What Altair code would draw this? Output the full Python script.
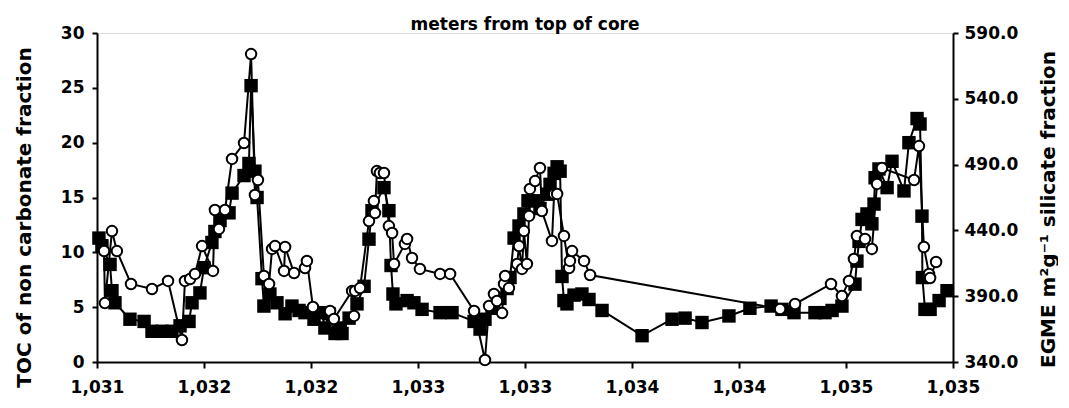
import altair as alt
import pandas as pd

# TOC of non carbonate fraction (filled squares, left axis)
toc_depth = [1031.009, 1031.023, 1031.061, 1031.070, 1031.084, 1031.154, 1031.220, 1031.257,
             1031.304, 1031.350, 1031.388, 1031.430, 1031.444, 1031.481, 1031.500, 1031.537,
             1031.551, 1031.575, 1031.617, 1031.631, 1031.687, 1031.710, 1031.720, 1031.738,
             1031.748, 1031.771, 1031.780, 1031.808, 1031.841, 1031.879, 1031.911, 1031.944,
             1031.972, 1032.014, 1032.051, 1032.065, 1032.084, 1032.112, 1032.136, 1032.145,
             1032.178, 1032.215, 1032.248, 1032.271, 1032.285, 1032.341, 1032.364, 1032.374,
             1032.383, 1032.397, 1032.449, 1032.481, 1032.519, 1032.603, 1032.659, 1032.762,
             1032.790, 1032.813, 1032.846, 1032.883, 1032.916, 1032.930, 1032.949, 1032.972,
             1032.995, 1033.014, 1033.042, 1033.070, 1033.103, 1033.117, 1033.136, 1033.150,
             1033.164, 1033.173, 1033.182, 1033.196, 1033.229, 1033.266, 1033.299, 1033.360,
             1033.547, 1033.687, 1033.748, 1033.827, 1033.953, 1034.051, 1034.150, 1034.201,
             1034.257, 1034.355, 1034.402, 1034.435, 1034.481, 1034.542, 1034.551, 1034.561,
             1034.575, 1034.598, 1034.621, 1034.631, 1034.636, 1034.654, 1034.692, 1034.715,
             1034.771, 1034.794, 1034.832, 1034.846, 1034.855, 1034.857, 1034.869, 1034.893,
             1034.935, 1034.972]
toc_values = [11.3, 10.6, 8.9, 6.5, 5.4, 3.9, 3.7, 2.8,
              2.8, 2.8, 3.3, 3.7, 5.4, 6.3, 8.6, 10.9,
              11.9, 12.9, 13.6, 15.4, 17.0, 18.1, 25.2, 17.4,
              15.0, 7.6, 5.1, 6.2, 5.4, 4.4, 5.1, 4.7,
              4.5, 3.9, 4.5, 3.1, 4.4, 2.6, 3.1, 2.6,
              4.0, 5.3, 6.9, 11.2, 13.8, 15.9, 13.8, 8.8,
              6.2, 5.3, 5.6, 5.4, 4.8, 4.5, 4.5, 3.7,
              3.0, 3.9, 4.9, 5.8, 6.7, 7.7, 11.3, 12.4,
              13.5, 14.7, 14.7, 14.0, 15.3, 16.2, 17.2, 17.8,
              17.4, 7.8, 5.6, 5.3, 6.1, 6.2, 5.7, 4.7,
              2.4, 3.9, 4.0, 3.6, 4.2, 4.9, 5.1, 4.8,
              4.5, 4.5, 4.5, 4.7, 5.1, 7.1, 9.2, 11.0,
              13.0, 13.5, 12.6, 14.4, 16.8, 17.6, 15.9, 18.3,
              15.6, 20.0, 22.2, 21.7, 13.3, 7.7, 4.8, 4.8,
              5.6, 6.5]

# EGME surface area of silicate fraction (open circles, right axis)
egme_depth = [1031.033, 1031.037, 1031.070, 1031.093, 1031.159, 1031.257, 1031.332, 1031.397,
              1031.411, 1031.435, 1031.458, 1031.491, 1031.542, 1031.551, 1031.570, 1031.598,
              1031.631, 1031.687, 1031.720, 1031.738, 1031.752, 1031.780, 1031.804, 1031.818,
              1031.832, 1031.874, 1031.879, 1031.921, 1031.972, 1031.981, 1032.009, 1032.089,
              1032.107, 1032.192, 1032.201, 1032.206, 1032.229, 1032.271, 1032.294, 1032.299,
              1032.308, 1032.322, 1032.341, 1032.364, 1032.379, 1032.388, 1032.439, 1032.449,
              1032.472, 1032.509, 1032.603, 1032.650, 1032.762, 1032.813, 1032.832, 1032.855,
              1032.869, 1032.893, 1032.902, 1032.907, 1032.925, 1032.963, 1032.972, 1032.986,
              1032.995, 1033.009, 1033.019, 1033.023, 1033.047, 1033.070, 1033.079, 1033.126,
              1033.136, 1033.150, 1033.182, 1033.206, 1033.210, 1033.220, 1033.276, 1033.304,
              1034.192, 1034.262, 1034.430, 1034.481, 1034.514, 1034.537, 1034.551, 1034.589,
              1034.621, 1034.645, 1034.668, 1034.818, 1034.841, 1034.864, 1034.888, 1034.893,
              1034.921]
egme_values = [424.3, 384.8, 439.5, 424.3, 399.3, 395.5, 401.6, 356.7,
               401.6, 403.1, 406.9, 428.1, 409.2, 455.5, 441.1, 455.5,
               494.3, 506.4, 574.0, 466.9, 478.3, 405.4, 399.3, 425.9,
               428.1, 409.2, 427.4, 407.6, 411.4, 416.8, 381.8, 378.8,
               372.7, 394.0, 375.0, 394.0, 396.2, 447.1, 462.3, 453.2,
               485.1, 483.6, 483.6, 443.3, 438.0, 414.5, 429.7, 433.5,
               419.0, 410.7, 406.9, 406.9, 378.8, 341.5, 382.6, 391.7,
               386.4, 377.2, 399.3, 405.4, 396.2, 414.5, 428.1, 410.7,
               439.5, 414.5, 451.0, 471.5, 477.5, 487.4, 454.7, 432.0,
               467.7, 467.7, 435.8, 411.4, 416.8, 424.3, 416.8, 406.1,
               380.3, 384.1, 399.3, 390.2, 401.6, 418.3, 435.8, 433.5,
               425.9, 475.3, 487.4, 478.3, 504.1, 427.4, 406.9, 403.8,
               416.0]

x_ticks = [1031.0, 1031.5, 1032.0, 1032.5, 1033.0, 1033.5, 1034.0, 1034.5, 1035.0]
left_ticks = [0, 5, 10, 15, 20, 25, 30]
right_ticks = [340, 390, 440, 490, 540, 590]

toc_df = pd.DataFrame({"depth": toc_depth, "toc": toc_values})
egme_df = pd.DataFrame({"depth": egme_depth, "egme": egme_values})

FONT = "DejaVu Sans"
LBL = 17
TTL = 20

x_axis = alt.Axis(values=x_ticks, format=",.0f", title=None, grid=False, labelFlush=False,
                  labelFontSize=LBL, labelFontWeight="bold", labelPadding=11,
                  tickSize=6, tickWidth=2, domainWidth=2, labelFont=FONT,
                  labelColor="black", tickColor="black", domainColor="black")
x_enc = alt.X("depth:Q", scale=alt.Scale(domain=[1031, 1035], nice=False, zero=False),
              axis=x_axis)

left_axis = alt.Axis(values=left_ticks, title="TOC of non carbonate fraction", grid=False,
                     orient="left", labelFontSize=LBL, labelFontWeight="bold",
                     titleFontSize=TTL, titleFontWeight="bold", titleFont=FONT, labelFont=FONT,
                     titleColor="black", labelColor="black", tickColor="black",
                     domainColor="black", tickSize=5, tickWidth=2, domainWidth=2,
                     labelPadding=8, titleX=-73, titleY=184, titleBaseline="middle",
                     titleAngle=270)
right_axis = alt.Axis(values=right_ticks, format=".1f", orient="right", grid=False,
                      title="EGME m²g⁻¹ silicate fraction", titleAngle=270,
                      labelFontSize=LBL, labelFontWeight="bold",
                      titleFontSize=TTL, titleFontWeight="bold", titleFont=FONT, labelFont=FONT,
                      titleColor="black", labelColor="black", tickColor="black",
                      domainColor="black", tickSize=5, tickWidth=2, domainWidth=2,
                      labelPadding=6, titleX=95, titleY=176, titleBaseline="middle")

toc_scale = alt.Scale(domain=[0, 30], nice=False)
egme_scale = alt.Scale(domain=[340, 590], nice=False, zero=False)

toc_base = alt.Chart(toc_df).encode(
    x=x_enc,
    y=alt.Y("toc:Q", scale=toc_scale, axis=left_axis),
)
toc_layer = alt.layer(
    toc_base.mark_line(color="black", strokeWidth=2),
    toc_base.mark_point(shape="square", filled=True, color="black", size=180, opacity=1),
)

egme_base = alt.Chart(egme_df).encode(
    x=x_enc,
    y=alt.Y("egme:Q", scale=egme_scale, axis=right_axis),
)
egme_layer = alt.layer(
    egme_base.mark_line(color="black", strokeWidth=2),
    egme_base.mark_point(shape="circle", filled=True, fill="white", stroke="black",
                         strokeWidth=2, size=110, opacity=1),
)

chart = alt.layer(toc_layer, egme_layer).resolve_scale(y="independent").properties(
    width=856, height=329,
    padding={"left": 5, "top": 8, "right": 0, "bottom": 3},
    title=alt.TitleParams("meters from top of core", fontSize=17, fontWeight="bold",
                          font=FONT, color="black", offset=-10),
).configure_view(stroke=None).configure(background="white")

chart.save("out.html", embed_options={"renderer": "svg", "actions": False})
